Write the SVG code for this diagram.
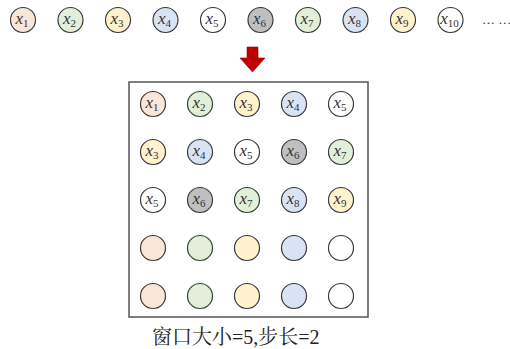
<svg xmlns="http://www.w3.org/2000/svg" width="510" height="349" viewBox="0 0 510 349">
<style>
.n{stroke:#3a3a3a;stroke-width:1.2}
.o{fill:#fbe5d6}.g{fill:#e2f0d9}.y{fill:#fff2cc}.b{fill:#dae3f3}.w{fill:#ffffff}.d{fill:#bfbfbf}
.t{font-family:"Liberation Serif","DejaVu Serif",serif;font-size:17px;font-style:italic;fill:#333;text-anchor:middle}
.s{font-size:11px;font-style:normal}
.cap{font-family:"Liberation Serif","Noto Serif CJK SC","Noto Sans CJK SC",serif;font-size:20px;fill:#222}
</style>
<rect width="510" height="349" fill="#ffffff"/>
<g id="seq">
<g id="s1"><circle class="n o" cx="23" cy="20" r="12.5"/><text class="t" x="22" y="24">x<tspan class="s" dy="3">1</tspan></text></g>
<g id="s2"><circle class="n g" cx="70.5" cy="20" r="12.5"/><text class="t" x="69.5" y="24">x<tspan class="s" dy="3">2</tspan></text></g>
<g id="s3"><circle class="n y" cx="118" cy="20" r="12.5"/><text class="t" x="117" y="24">x<tspan class="s" dy="3">3</tspan></text></g>
<g id="s4"><circle class="n b" cx="165.5" cy="20" r="12.5"/><text class="t" x="164.5" y="24">x<tspan class="s" dy="3">4</tspan></text></g>
<g id="s5"><circle class="n w" cx="213" cy="20" r="12.5"/><text class="t" x="212" y="24">x<tspan class="s" dy="3">5</tspan></text></g>
<g id="s6"><circle class="n d" cx="260.5" cy="20" r="12.5"/><text class="t" x="259.5" y="24">x<tspan class="s" dy="3">6</tspan></text></g>
<g id="s7"><circle class="n g" cx="308" cy="20" r="12.5"/><text class="t" x="307" y="24">x<tspan class="s" dy="3">7</tspan></text></g>
<g id="s8"><circle class="n b" cx="355.5" cy="20" r="12.5"/><text class="t" x="354.5" y="24">x<tspan class="s" dy="3">8</tspan></text></g>
<g id="s9"><circle class="n y" cx="403" cy="20" r="12.5"/><text class="t" x="402" y="24">x<tspan class="s" dy="3">9</tspan></text></g>
<g id="s10"><circle class="n w" cx="450.5" cy="20" r="12.5"/><text class="t" x="449.5" y="24">x<tspan class="s" dy="3">10</tspan></text></g>
<text x="482" y="24" style="font-family:'Liberation Serif',serif;font-size:13px;fill:#333">… …</text>
</g>
<g id="arrow"><path d="M247 47 H258 V58 H265 L252.5 72 L240 58 H247 Z" fill="#c00000" stroke="#a00000" stroke-width="0.6"/></g>
<g id="window">
<rect x="129" y="82" width="239" height="235" fill="none" stroke="#555" stroke-width="1.5"/>
<g id="r1">
<circle class="n o" cx="153" cy="104" r="12.5"/><text class="t" x="152" y="108">x<tspan class="s" dy="3">1</tspan></text>
<circle class="n g" cx="200" cy="104" r="12.5"/><text class="t" x="199" y="108">x<tspan class="s" dy="3">2</tspan></text>
<circle class="n y" cx="247" cy="104" r="12.5"/><text class="t" x="246" y="108">x<tspan class="s" dy="3">3</tspan></text>
<circle class="n b" cx="294" cy="104" r="12.5"/><text class="t" x="293" y="108">x<tspan class="s" dy="3">4</tspan></text>
<circle class="n w" cx="341" cy="104" r="12.5"/><text class="t" x="340" y="108">x<tspan class="s" dy="3">5</tspan></text>
</g>
<g id="r2">
<circle class="n y" cx="153" cy="152" r="12.5"/><text class="t" x="152" y="156">x<tspan class="s" dy="3">3</tspan></text>
<circle class="n b" cx="200" cy="152" r="12.5"/><text class="t" x="199" y="156">x<tspan class="s" dy="3">4</tspan></text>
<circle class="n w" cx="247" cy="152" r="12.5"/><text class="t" x="246" y="156">x<tspan class="s" dy="3">5</tspan></text>
<circle class="n d" cx="294" cy="152" r="12.5"/><text class="t" x="293" y="156">x<tspan class="s" dy="3">6</tspan></text>
<circle class="n g" cx="341" cy="152" r="12.5"/><text class="t" x="340" y="156">x<tspan class="s" dy="3">7</tspan></text>
</g>
<g id="r3">
<circle class="n w" cx="153" cy="200" r="12.5"/><text class="t" x="152" y="204">x<tspan class="s" dy="3">5</tspan></text>
<circle class="n d" cx="200" cy="200" r="12.5"/><text class="t" x="199" y="204">x<tspan class="s" dy="3">6</tspan></text>
<circle class="n g" cx="247" cy="200" r="12.5"/><text class="t" x="246" y="204">x<tspan class="s" dy="3">7</tspan></text>
<circle class="n b" cx="294" cy="200" r="12.5"/><text class="t" x="293" y="204">x<tspan class="s" dy="3">8</tspan></text>
<circle class="n y" cx="341" cy="200" r="12.5"/><text class="t" x="340" y="204">x<tspan class="s" dy="3">9</tspan></text>
</g>
<g id="r4">
<circle class="n o" cx="153" cy="248" r="12.5"/>
<circle class="n g" cx="200" cy="248" r="12.5"/>
<circle class="n y" cx="247" cy="248" r="12.5"/>
<circle class="n b" cx="294" cy="248" r="12.5"/>
<circle class="n w" cx="341" cy="248" r="12.5"/>
</g>
<g id="r5">
<circle class="n o" cx="153" cy="296" r="12.5"/>
<circle class="n g" cx="200" cy="296" r="12.5"/>
<circle class="n y" cx="247" cy="296" r="12.5"/>
<circle class="n b" cx="294" cy="296" r="12.5"/>
<circle class="n w" cx="341" cy="296" r="12.5"/>
</g>
</g>
<text class="cap" x="152" y="344">窗口大小=5,步长=2</text>
</svg>
